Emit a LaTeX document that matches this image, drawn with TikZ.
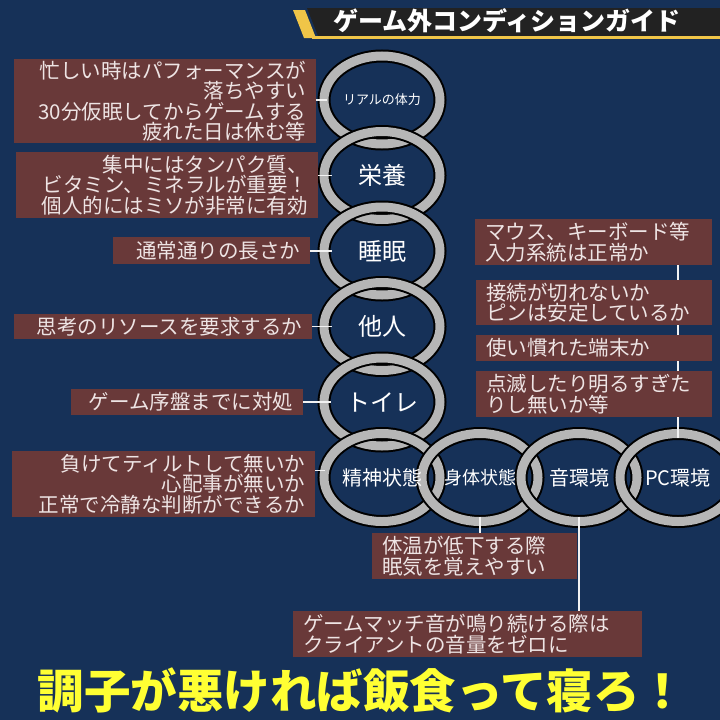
\documentclass[tikz,border=0pt]{standalone}
\usepackage{fontspec}
\newfontfamily\jpfont{Noto Sans CJK JP}
\usetikzlibrary{shapes.geometric}
\definecolor{navybg}{HTML}{163158}
\definecolor{notebrown}{HTML}{693939}
\definecolor{notetext}{HTML}{EEE4E4}
\definecolor{ringgray}{HTML}{B6B6B6}
\definecolor{bandblack}{HTML}{222222}
\definecolor{bandgold}{HTML}{F0C548}
\definecolor{sloganyellow}{HTML}{FFFF33}

\begin{document}
\begin{tikzpicture}[x=1pt, y=-1pt,
    every node/.style={font=\jpfont},
    note/.style={fill=notebrown, text=notetext, inner xsep=10pt, inner ysep=0pt,
      font=\jpfont\fontsize{20.5}{20.5}\selectfont},
    linkname/.style={ellipse, minimum width=100, minimum height=78, inner sep=0pt,
      text=white, font=\jpfont\fontsize{24}{24}\selectfont},
    wire/.style={draw=white!90!gray, line width=1.4pt}]
  % 1. 背景と描画範囲
  \fill[navybg] (0,0) rectangle (720,720);
  \useasboundingbox (0,0) rectangle (720,720);

  % 2. 見出しの帯
  \fill[bandblack] (307,8) -- (720,8) -- (720,36) -- (318,36) -- cycle;
  \fill[bandgold] (293,10) -- (305,10) -- (316,38) -- (304,38) -- cycle;
  \fill[bandgold] (312,36) rectangle (720,38.5);
  \node[text=white, font=\jpfont\bfseries\fontsize{25}{25}\selectfont] (heading) at (507,21) {ゲーム外コンディションガイド};

  % 3. 鎖の輪 (縦に6個, 横に3個)
  \foreach \cx/\cy in {382/100, 382/175.5, 382/251, 382/326.5, 382/402, 382/477.5, 480/477.5, 579/477.5, 678/477.5} {
    \draw[black, line width=13pt] (\cx,\cy) ellipse [x radius=58, y radius=44];
    \draw[ringgray, line width=9pt] (\cx,\cy) ellipse [x radius=58, y radius=44];
  }

  % 4. 輪の項目名
  \node[linkname, font=\jpfont\fontsize{13}{13}\selectfont] (stamina) at (382,100) {リアルの体力};
  \node[linkname] (food) at (382,175.5) {栄養};
  \node[linkname] (sleep) at (382,251) {睡眠};
  \node[linkname] (people) at (382,326.5) {他人};
  \node[linkname] (toilet) at (382,402) {トイレ};
  \node[linkname, font=\jpfont\fontsize{20}{20}\selectfont] (mental) at (382,477.5) {精神状態};
  \node[linkname, font=\jpfont\fontsize{18}{18}\selectfont] (body) at (480,477.5) {身体状態};
  \node[linkname, font=\jpfont\fontsize{20}{20}\selectfont] (sound) at (579,477.5) {音環境};
  \node[linkname, font=\jpfont\fontsize{20}{20}\selectfont] (pc) at (678,477.5) {PC環境};

  % 5. 左側の説明 (右揃え)
  \node[note, align=right, text width=282, minimum height=84] (stamina-note) at (165,101)
    {忙しい時はパフォーマンスが\\落ちやすい\\30分仮眠してからゲームする\\疲れた日は休む等};
  \node[note, align=right, text width=282, minimum height=66] (food-note) at (167,185)
    {集中にはタンパク質、\\ビタミン、ミネラルが重要！\\個人的にはミソが非常に有効};
  \node[note, align=right, text width=177, minimum height=27] (sleep-note) at (211.5,250.5) {通常通りの長さか};
  \node[note, align=right, text width=278, minimum height=25] (people-note) at (163,326.5) {思考のリソースを要求するか};
  \node[note, align=right, text width=212, minimum height=26] (toilet-note) at (187,402) {ゲーム序盤までに対処};
  \node[note, align=right, text width=283, minimum height=66] (mental-note) at (163.5,484)
    {負けてティルトして無いか\\心配事が無いか\\正常で冷静な判断ができるか};

  % 6. 右側と下側の説明 (左揃え)
  \node[note, align=left, text width=217, minimum height=46] (input-note) at (593.5,242) {マウス、キーボード等\\入力系統は正常か};
  \node[note, align=left, text width=216, minimum height=45] (link-note) at (594,302.5) {接続が切れないか\\ピンは安定しているか};
  \node[note, align=left, text width=216, minimum height=26] (device-note) at (594,348) {使い慣れた端末か};
  \node[note, align=left, text width=216, minimum height=46] (screen-note) at (594,394) {点滅したり明るすぎた\\りし無いか等};
  \node[note, align=left, text width=185, minimum height=46] (chill-note) at (474.5,556) {体温が低下する際\\眠気を覚えやすい};
  \node[note, align=left, text width=329, minimum height=46] (mute-note) at (467.5,634) {ゲームマッチ音が鳴り続ける際は\\クライアントの音量をゼロに};

  % 7. 引き出し線
  \draw[wire] (stamina.west -| stamina-note.east) -- (stamina.west);
  \draw[wire] (food.west -| food-note.east) -- (food.west);
  \draw[wire] (sleep.west -| sleep-note.east) -- (sleep.west);
  \draw[wire] (people.west -| people-note.east) -- (people.west);
  \draw[wire] (toilet.west -| toilet-note.east) -- (toilet.west);
  \draw[wire] ([yshift=7pt]mental.west -| mental-note.east) -- ([yshift=7pt]mental.west);
  \draw[wire] (pc.north |- input-note.south) -- (pc.north |- link-note.north);
  \draw[wire] (pc.north |- link-note.south) -- (pc.north |- device-note.north);
  \draw[wire] (pc.north |- device-note.south) -- (pc.north |- screen-note.north);
  \draw[wire] (pc.north |- screen-note.south) -- (pc.north);
  \draw[wire] (body.south) -- (body.south |- chill-note.north);
  \draw[wire] (sound.south) -- (sound.south |- mute-note.north);

  % 8. 締めの一言
  \node[text=sloganyellow, font=\jpfont\bfseries\fontsize{46.5}{46.5}\selectfont] (slogan) at (362,690) {調子が悪ければ飯食って寝ろ！};
\end{tikzpicture}
\end{document}
